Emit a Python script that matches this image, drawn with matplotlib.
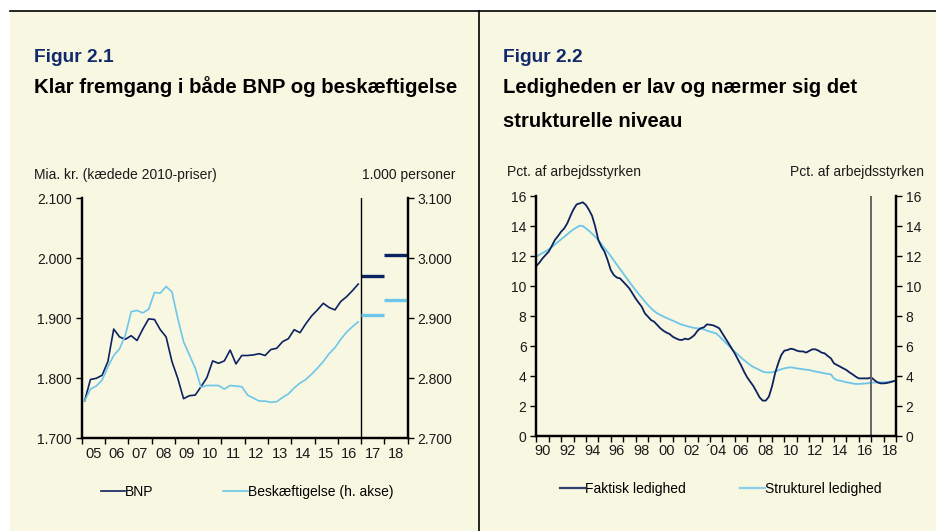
import numpy as np
import matplotlib
matplotlib.use("Agg")
import matplotlib.pyplot as plt
from matplotlib.lines import Line2D
from matplotlib.patches import Rectangle
from matplotlib.ticker import FixedLocator, FuncFormatter

plt.rcParams['font.family'] = ['Liberation Sans', 'DejaVu Sans']

# Farver
BG = '#F8F7E2'
NAVY = '#0D2260'
LIGHT = '#6EC6EA'
TITLE = '#12296B'

# Figur 2.1 - kvartalsdata 2005K1-2016K4
bnp = [1762, 1798, 1800, 1805, 1828, 1882, 1869, 1865, 1871, 1863, 1882, 1899,
       1898, 1881, 1869, 1828, 1800, 1766, 1771, 1772, 1786, 1801, 1829, 1825,
       1829, 1847, 1824, 1838, 1838, 1839, 1841, 1838, 1848, 1850, 1861, 1866,
       1881, 1876, 1891, 1904, 1914, 1925, 1918, 1914, 1928, 1936, 1946, 1957]
beskaeft = [2762, 2782, 2787, 2797, 2819, 2838, 2849, 2872, 2911, 2913, 2909, 2915,
            2943, 2942, 2953, 2944, 2900, 2861, 2839, 2817, 2785, 2788, 2788, 2788,
            2782, 2788, 2787, 2786, 2772, 2767, 2762, 2762, 2760, 2761, 2768, 2774,
            2784, 2792, 2798, 2807, 2817, 2828, 2841, 2851, 2865, 2877, 2886, 2894]
prognose_aar = [2017, 2018]
bnp_prognose = [1971, 2006]
beskaeft_prognose = [2906, 2931]
aar_labels_1 = ['05', '06', '07', '08', '09', '10', '11', '12', '13', '14', '15', '16', '17', '18']

# Figur 2.2 - kvartalsdata 1990K1-2019K1
faktisk = [11.33, 11.56, 11.84, 12.07, 12.29, 12.67, 13.07, 13.33, 13.62, 13.84, 14.18, 14.67,
           15.11, 15.44, 15.51, 15.58, 15.40, 15.07, 14.67, 13.96, 13.07, 12.62, 12.29, 11.73,
           11.07, 10.73, 10.56, 10.51, 10.29, 10.07, 9.84, 9.51, 9.18, 8.89, 8.62, 8.18,
           7.96, 7.73, 7.62, 7.40, 7.18, 7.02, 6.89, 6.80, 6.62, 6.51, 6.42, 6.40,
           6.49, 6.44, 6.56, 6.73, 7.02, 7.18, 7.24, 7.44, 7.42, 7.38, 7.29, 7.18,
           6.84, 6.51, 6.18, 5.84, 5.51, 5.11, 4.73, 4.29, 3.91, 3.62, 3.33, 2.96,
           2.58, 2.36, 2.36, 2.62, 3.29, 4.18, 4.84, 5.40, 5.69, 5.73, 5.82, 5.78,
           5.69, 5.64, 5.64, 5.56, 5.67, 5.78, 5.78, 5.69, 5.56, 5.51, 5.33, 5.18,
           4.84, 4.73, 4.62, 4.51, 4.40, 4.24, 4.11, 3.96, 3.84, 3.84, 3.84, 3.84,
           3.91, 3.73, 3.58, 3.51, 3.51, 3.53, 3.58, 3.64, 3.69]
strukturel = [11.96, 12.08, 12.20, 12.32, 12.44, 12.60, 12.77, 12.94, 13.11, 13.28, 13.45, 13.62,
              13.78, 13.90, 14.02, 14.00, 13.84, 13.68, 13.48, 13.28, 13.07, 12.80, 12.53, 12.27,
              12.00, 11.70, 11.42, 11.13, 10.84, 10.56, 10.28, 10.00, 9.73, 9.47, 9.22, 8.97,
              8.73, 8.52, 8.33, 8.18, 8.07, 7.97, 7.87, 7.78, 7.69, 7.60, 7.50, 7.42,
              7.36, 7.30, 7.25, 7.20, 7.18, 7.15, 7.11, 7.03, 6.96, 6.90, 6.84, 6.65,
              6.44, 6.23, 6.03, 5.82, 5.62, 5.43, 5.24, 5.06, 4.89, 4.73, 4.60, 4.50,
              4.40, 4.30, 4.24, 4.24, 4.24, 4.30, 4.38, 4.45, 4.51, 4.55, 4.58, 4.55,
              4.51, 4.48, 4.45, 4.42, 4.40, 4.35, 4.30, 4.26, 4.22, 4.18, 4.14, 4.11,
              3.84, 3.72, 3.69, 3.64, 3.58, 3.55, 3.50, 3.47, 3.47, 3.48, 3.50, 3.52,
              3.56, 3.57, 3.57, 3.58, 3.58, 3.60, 3.62, 3.65, 3.69]
aar_labels_2 = ['90', '92', '94', '96', '98', '00', '02', '\u00b404', '06', '08', '10', '12', '14', '16', '18']

W, H = 936, 531
fig = plt.figure(figsize=(W / 100, H / 100), dpi=100, facecolor='white')


def fx(px):
    return px / W


def fy(py):
    return 1 - py / H


# baggrund og rammer
fig.add_artist(Rectangle((fx(10), 0), 1 - fx(10), fy(11), transform=fig.transFigure,
                         facecolor=BG, edgecolor='none', zorder=-10))
fig.add_artist(Line2D([fx(10), 1], [fy(11), fy(11)], transform=fig.transFigure,
                      color='black', lw=1.2))
fig.add_artist(Line2D([fx(479), fx(479)], [0, fy(11)], transform=fig.transFigure,
                      color='black', lw=1.2))

# overskrifter
fig.text(fx(34), fy(62), 'Figur 2.1', color=TITLE, fontsize=13.8, weight='bold', va='baseline')
fig.text(fx(34), fy(93), 'Klar fremgang i både BNP og beskæftigelse', color='black',
         fontsize=14.7, weight='bold', va='baseline')
fig.text(fx(503), fy(62), 'Figur 2.2', color=TITLE, fontsize=13.8, weight='bold', va='baseline')
fig.text(fx(503), fy(93), 'Ledigheden er lav og nærmer sig det', color='black',
         fontsize=14.6, weight='bold', va='baseline')
fig.text(fx(503), fy(127), 'strukturelle niveau', color='black',
         fontsize=14.6, weight='bold', va='baseline')

fig.text(fx(34), fy(179), 'Mia. kr. (kædede 2010-priser)', fontsize=10, va='baseline', color='#1a1a1a')
fig.text(fx(455), fy(179), '1.000 personer', fontsize=10, va='baseline', ha='right', color='#1a1a1a')
fig.text(fx(507), fy(176), 'Pct. af arbejdsstyrken', fontsize=10, va='baseline', color='#1a1a1a')
fig.text(fx(924), fy(176), 'Pct. af arbejdsstyrken', fontsize=10, va='baseline', ha='right', color='#1a1a1a')


def style_axes(ax, twin):
    ax.set_facecolor('none')
    for a in (ax, twin):
        a.spines['top'].set_visible(False)
        for s in ('left', 'right', 'bottom'):
            a.spines[s].set_linewidth(1.6)
            a.spines[s].set_color('black')
        a.tick_params(axis='y', length=4, width=1, labelsize=10, colors='black',
                      labelcolor='#1a1a1a', pad=3)
    ax.tick_params(axis='x', which='major', length=4, width=1, labelbottom=False)
    ax.tick_params(axis='x', which='minor', length=0, labelsize=10.5, labelcolor='#1a1a1a', pad=6)


dk = FuncFormatter(lambda v, p: f'{v:,.0f}'.replace(',', '.'))

# ---------- Figur 2.1 ----------
ax1 = fig.add_axes([fx(81.7), fy(438.3), fx(407.7 - 81.7), fy(198.3) - fy(438.3)])
ax1b = ax1.twinx()
style_axes(ax1, ax1b)

t1 = 2005 + (np.arange(len(bnp)) + 0.5) / 4
ax1.plot(t1, bnp, color=NAVY, lw=1.2)
ax1b.plot(t1, beskaeft, color=LIGHT, lw=1.2)
for i, aar in enumerate(prognose_aar):
    ax1.hlines(bnp_prognose[i], aar, aar + 1, color=NAVY, lw=2.4)
    ax1b.hlines(beskaeft_prognose[i], aar, aar + 1, color=LIGHT, lw=2.4)
ax1.axvline(2017, color='black', lw=1.0)

ax1.set_xlim(2005, 2019)
ax1.set_ylim(1700, 2100)
ax1b.set_ylim(2700, 3100)
ax1.set_yticks(np.arange(1700, 2101, 100))
ax1b.set_yticks(np.arange(2700, 3101, 100))
ax1.yaxis.set_major_formatter(dk)
ax1b.yaxis.set_major_formatter(dk)
ax1.xaxis.set_major_locator(FixedLocator(np.arange(2005, 2020)))
ax1.xaxis.set_minor_locator(FixedLocator(np.arange(2005, 2019) + 0.5))
ax1.set_xticklabels(aar_labels_1, minor=True)

ax1.legend([Line2D([], [], color=NAVY, lw=1.2), Line2D([], [], color=LIGHT, lw=1.2)],
           ['BNP', 'Beskæftigelse (h. akse)'], ncol=2, frameon=False,
           loc='center left', bbox_to_anchor=(fx(101), fy(492)), bbox_transform=fig.transFigure,
           handlelength=1.75, handletextpad=0.0, columnspacing=5.0, fontsize=10,
           borderaxespad=0, borderpad=0)

# ---------- Figur 2.2 ----------
ax2 = fig.add_axes([fx(536.3), fy(436), fx(896 - 536.3), fy(196) - fy(436)])
ax2b = ax2.twinx()
style_axes(ax2, ax2b)

t2 = 1990 + np.arange(len(faktisk)) / 4
ax2.plot(t2, strukturel, color=LIGHT, lw=1.3)
ax2.plot(t2, faktisk, color=NAVY, lw=1.3)
ax2.axvline(2017, color='#666666', lw=1.4)

ax2.set_xlim(1990, 2019)
ax2.set_ylim(0, 16)
ax2b.set_ylim(0, 16)
ax2.set_yticks(np.arange(0, 17, 2))
ax2b.set_yticks(np.arange(0, 17, 2))
ax2.xaxis.set_major_locator(FixedLocator(np.arange(1990, 2020)))
ax2.xaxis.set_minor_locator(FixedLocator(np.arange(1990, 2019, 2) + 0.5))
ax2.set_xticklabels(aar_labels_2, minor=True)

ax2.legend([Line2D([], [], color='#2E4170', lw=1.6), Line2D([], [], color='#8CCFEA', lw=1.6)],
           ['Faktisk ledighed', 'Strukturel ledighed'], ncol=2, frameon=False,
           loc='center left', bbox_to_anchor=(fx(560), fy(489)), bbox_transform=fig.transFigure,
           handlelength=1.8, handletextpad=0.0, columnspacing=3.9, fontsize=10,
           borderaxespad=0, borderpad=0)

fig.savefig('out.png', dpi=100, facecolor=fig.get_facecolor())
